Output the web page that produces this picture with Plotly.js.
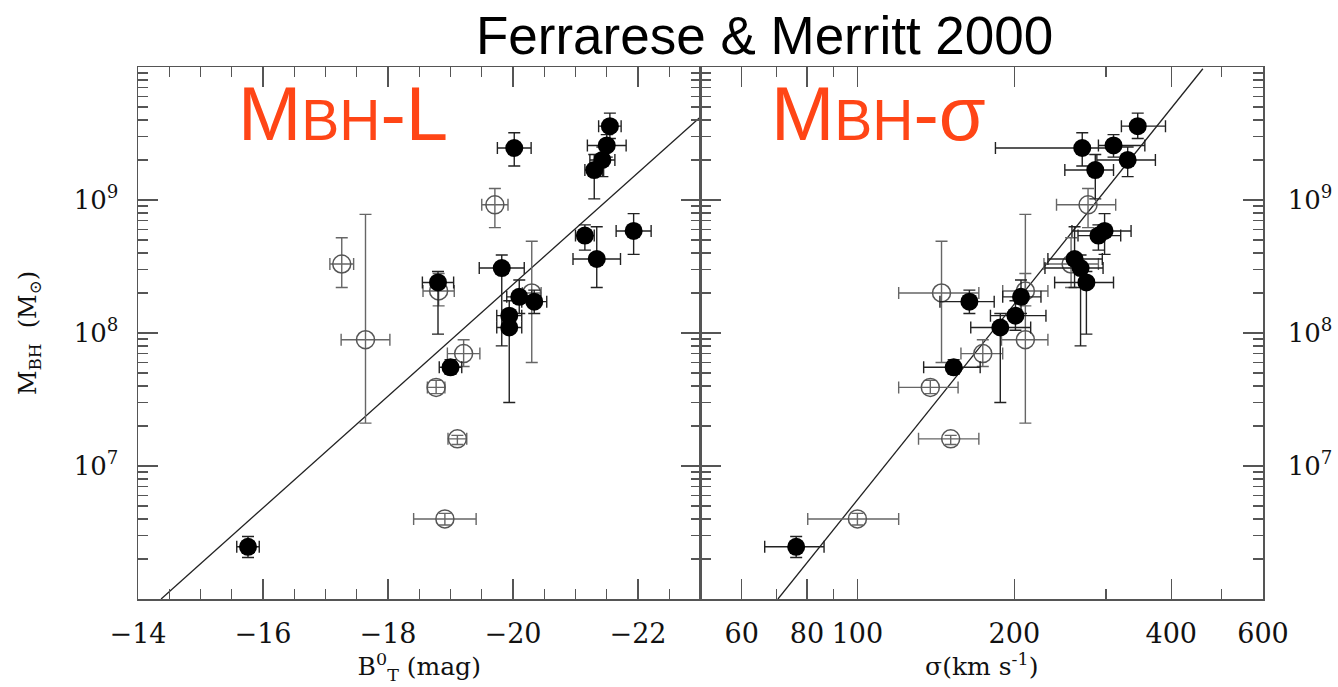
<!DOCTYPE html>
<html>
<head>
<meta charset="utf-8">
<script src="https://cdn.plot.ly/plotly-3.0.1.min.js"></script>
<style>html,body{margin:0;padding:0;background:#fff;}#chart{width:1338px;height:687px;}</style>
</head>
<body>
<div id="chart"></div>
<script>
// ---------- Data ----------
// Filled symbols
const magF    = [-21.55,-21.50,-21.43,-21.30,-20.02,-21.15,-21.93,-21.34,-19.82,-18.80,-20.10,-20.34,-19.94,-19.94,-19.00,-15.76];
const magFerr = [0.18, 0.31, 0.20, 0.15, 0.27, 0.15, 0.28, 0.38, 0.36, 0.25, 0.20, 0.20, 0.20, 0.20, 0.18, 0.18];
const sigF    = [345, 310, 330, 286, 270, 290, 298, 261, 268, 275, 206, 164, 201, 188, 153, 76.3];
const sigFlo  = [321, 290, 288, 250, 184, 265, 258, 232, 229, 239, 190, 144, 180, 165, 134, 66.4];
const sigFhi  = [390, 356, 373, 310, 310, 320, 335, 295, 296, 310, 225, 183, 230, 215, 172, 86.3];
const mF      = [3.59e9, 2.57e9, 2.0e9, 1.68e9, 2.46e9, 5.4e8, 5.85e8, 3.6e8, 3.08e8, 2.4e8, 1.87e8, 1.72e8, 1.35e8, 1.1e8, 5.52e7, 2.47e6];
const mFlo    = [2.9e9, 2.1e9, 1.5e9, 1.02e9, 1.8e9, 4.2e8, 3.9e8, 2.2e8, 8.0e7, 9.8e7, 1.4e8, 1.4e8, 1.05e8, 3.0e7, 4.9e7, 2.05e6];
const mFhi    = [4.5e9, 3.1e9, 2.5e9, 2.2e9, 3.2e9, 6.5e8, 7.9e8, 6.3e8, 3.86e8, 2.9e8, 2.5e8, 2.1e8, 1.75e8, 1.4e8, 6.3e7, 2.95e6];
// Open symbols
const magO    = [-19.71,-17.26,-18.81,-20.30,-17.64,-19.21,-18.77,-19.11,-18.91];
const magOerr = [0.21, 0.19, 0.25, 0.15, 0.39, 0.26, 0.14, 0.15, 0.50];
const sigO    = [277, 257, 210, 145, 210, 174, 138, 151, 100];
const sigOlo  = [241, 228, 190, 120, 189, 158, 120, 131, 80.3];
const sigOhi  = [313, 290, 232, 171, 232, 190, 156, 171, 120];
const mO      = [9.2e8, 3.3e8, 2.07e8, 2.0e8, 8.9e7, 7.0e7, 3.9e7, 1.6e7, 4.0e6];
const mOlo    = [6.2e8, 2.2e8, 1.6e8, 6.0e7, 2.1e7, 5.6e7, 3.5e7, 1.45e7, 3.6e6];
const mOhi    = [1.22e9, 5.2e8, 2.8e8, 4.9e8, 7.8e8, 8.9e7, 4.4e7, 1.7e7, 4.4e6];
// Fit lines (end points)
const fitLmag = [-14.37, -22.98];
const fitLm   = [1.0e6, 4.14e9];
const fitSsig = [70.4, 460];
const fitSm   = [1.0e6, 9.7e9];
// Ticks
const magTicks    = [-14, -16, -18, -20, -22];
const magTickText = ['\u221214', '\u221216', '\u221218', '\u221220', '\u221222'];
const magMinor    = [-14.5,-15,-15.5,-16.5,-17,-17.5,-18.5,-19,-19.5,-20.5,-21,-21.5,-22.5];
const sigTicks    = [60, 80, 100, 200, 400, 600];
const sigTickText = ['60', '80', '100', '200', '400', '600'];
const sigMinor    = [70, 90, 300, 500];
const mTicks      = [1e7, 1e8, 1e9];
const mTickText   = ['10<sup>7</sup>', '10<sup>8</sup>', '10<sup>9</sup>'];
const mMinor      = [];
[1e6, 1e7, 1e8, 1e9].forEach(d => { for (let k = 2; k <= 9; k++) mMinor.push(k * d); });

// ---------- helpers ----------
const plus  = (v, hi) => hi.map((h, i) => h - v[i]);
const minus = (v, lo) => lo.map((l, i) => v[i] - l);

const filledMarker = {symbol: 'circle', size: 18, color: '#000'};
const openMarker   = {symbol: 'circle-open', size: 18, color: '#555', line: {width: 1.5, color: '#555'}};
const errDark  = {color: '#222', thickness: 1.4, width: 6};
const errLight = {color: '#666', thickness: 1.4, width: 6};

const traces = [
  // Left panel
  {type: 'scatter', mode: 'lines', x: fitLmag, y: fitLm, xaxis: 'x', yaxis: 'y',
   line: {color: '#222', width: 1.3}, hoverinfo: 'skip'},
  {type: 'scatter', mode: 'markers', x: magO, y: mO, xaxis: 'x', yaxis: 'y', marker: openMarker,
   error_x: Object.assign({type: 'data', array: magOerr, symmetric: true}, errLight),
   error_y: Object.assign({type: 'data', array: plus(mO, mOhi), arrayminus: minus(mO, mOlo), symmetric: false}, errLight)},
  {type: 'scatter', mode: 'markers', x: magF, y: mF, xaxis: 'x', yaxis: 'y', marker: filledMarker,
   error_x: Object.assign({type: 'data', array: magFerr, symmetric: true}, errDark),
   error_y: Object.assign({type: 'data', array: plus(mF, mFhi), arrayminus: minus(mF, mFlo), symmetric: false}, errDark)},
  // Right panel
  {type: 'scatter', mode: 'lines', x: fitSsig, y: fitSm, xaxis: 'x2', yaxis: 'y2',
   line: {color: '#222', width: 1.3}, hoverinfo: 'skip'},
  {type: 'scatter', mode: 'markers', x: sigO, y: mO, xaxis: 'x2', yaxis: 'y2', marker: openMarker,
   error_x: Object.assign({type: 'data', array: plus(sigO, sigOhi), arrayminus: minus(sigO, sigOlo), symmetric: false}, errLight),
   error_y: Object.assign({type: 'data', array: plus(mO, mOhi), arrayminus: minus(mO, mOlo), symmetric: false}, errLight)},
  {type: 'scatter', mode: 'markers', x: sigF, y: mF, xaxis: 'x2', yaxis: 'y2', marker: filledMarker,
   error_x: Object.assign({type: 'data', array: plus(sigF, sigFhi), arrayminus: minus(sigF, sigFlo), symmetric: false}, errDark),
   error_y: Object.assign({type: 'data', array: plus(mF, mFhi), arrayminus: minus(mF, mFlo), symmetric: false}, errDark)}
];

const serif = 'DejaVu Serif, serif';
const base = {
  showline: true, linecolor: '#555', linewidth: 1.5, mirror: 'ticks',
  ticks: 'inside', ticklen: 20, tickwidth: 1.3, tickcolor: '#555',
  showgrid: false, zeroline: false, tickangle: 0, automargin: false,
  tickfont: {family: serif, size: 27, color: '#111'}
};
const minorT = (vals) => ({tickmode: 'array', tickvals: vals, ticks: 'inside', ticklen: 10, tickwidth: 1.3, tickcolor: '#555', showgrid: false});

const layout = {
  width: 1338, height: 687,
  margin: {l: 138, r: 75, t: 67, b: 88},
  paper_bgcolor: '#fff', plot_bgcolor: '#fff',
  showlegend: false, hovermode: false,
  title: {text: 'Ferrarese & Merritt 2000', font: {family: 'Liberation Sans, Arial, sans-serif', size: 53, color: '#000'},
          x: 0.557, xanchor: 'center', xref: 'paper', y: 0.948, yanchor: 'middle', yref: 'container'},
  xaxis: Object.assign({}, base, {
    domain: [0, 0.5], anchor: 'y', range: [-14, -23],
    tickmode: 'array', tickvals: magTicks, ticktext: magTickText,
    minor: minorT(magMinor), ticklabelstandoff: 10,
    title: {text: 'B<sup>0</sup><sub>T</sub> (mag)', font: {family: serif, size: 25, color: '#111'}, standoff: 8}
  }),
  yaxis: Object.assign({}, base, {
    domain: [0, 1], anchor: 'x', type: 'log', range: [6, 10],
    tickmode: 'array', tickvals: mTicks, ticktext: mTickText,
    minor: minorT(mMinor), ticklabelstandoff: 13,
    tickfont: {family: serif, size: 26, color: '#111'},
    title: {text: 'M<sub>BH</sub>  (M<sub>\u2299</sub>)', font: {family: serif, size: 24, color: '#111'}, standoff: 30}
  }),
  xaxis2: Object.assign({}, base, {
    domain: [0.5, 1], anchor: 'y2', type: 'log', range: [Math.log10(50), Math.log10(600)],
    tickmode: 'array', tickvals: sigTicks, ticktext: sigTickText,
    minor: minorT(sigMinor), ticklabelstandoff: 10,
    title: {text: '\u03c3(km s<sup>-1</sup>)', font: {family: serif, size: 25, color: '#111'}, standoff: 8}
  }),
  yaxis2: Object.assign({}, base, {
    domain: [0, 1], anchor: 'x2', side: 'right', type: 'log', range: [6, 10],
    tickmode: 'array', tickvals: mTicks, ticktext: mTickText,
    minor: minorT(mMinor), ticklabelstandoff: 18,
    tickfont: {family: serif, size: 26, color: '#111'}
  }),
  annotations: [
    {xref: 'paper', yref: 'paper', x: 0.087, y: 0.912, xanchor: 'left', yanchor: 'middle', showarrow: false,
     text: "M<span style='font-size:57px'>BH</span>-L",
     font: {family: 'Liberation Sans, Arial, sans-serif', size: 76, color: '#FF4516'}},
    {xref: 'paper', yref: 'paper', x: 0.561, y: 0.912, xanchor: 'left', yanchor: 'middle', showarrow: false,
     text: "M<span style='font-size:57px'>BH</span>-\u03c3",
     font: {family: 'Liberation Sans, Arial, sans-serif', size: 76, color: '#FF4516'}}
  ]
};

Plotly.newPlot('chart', traces, layout, {displayModeBar: false, staticPlot: true});
</script>
</body>
</html>
